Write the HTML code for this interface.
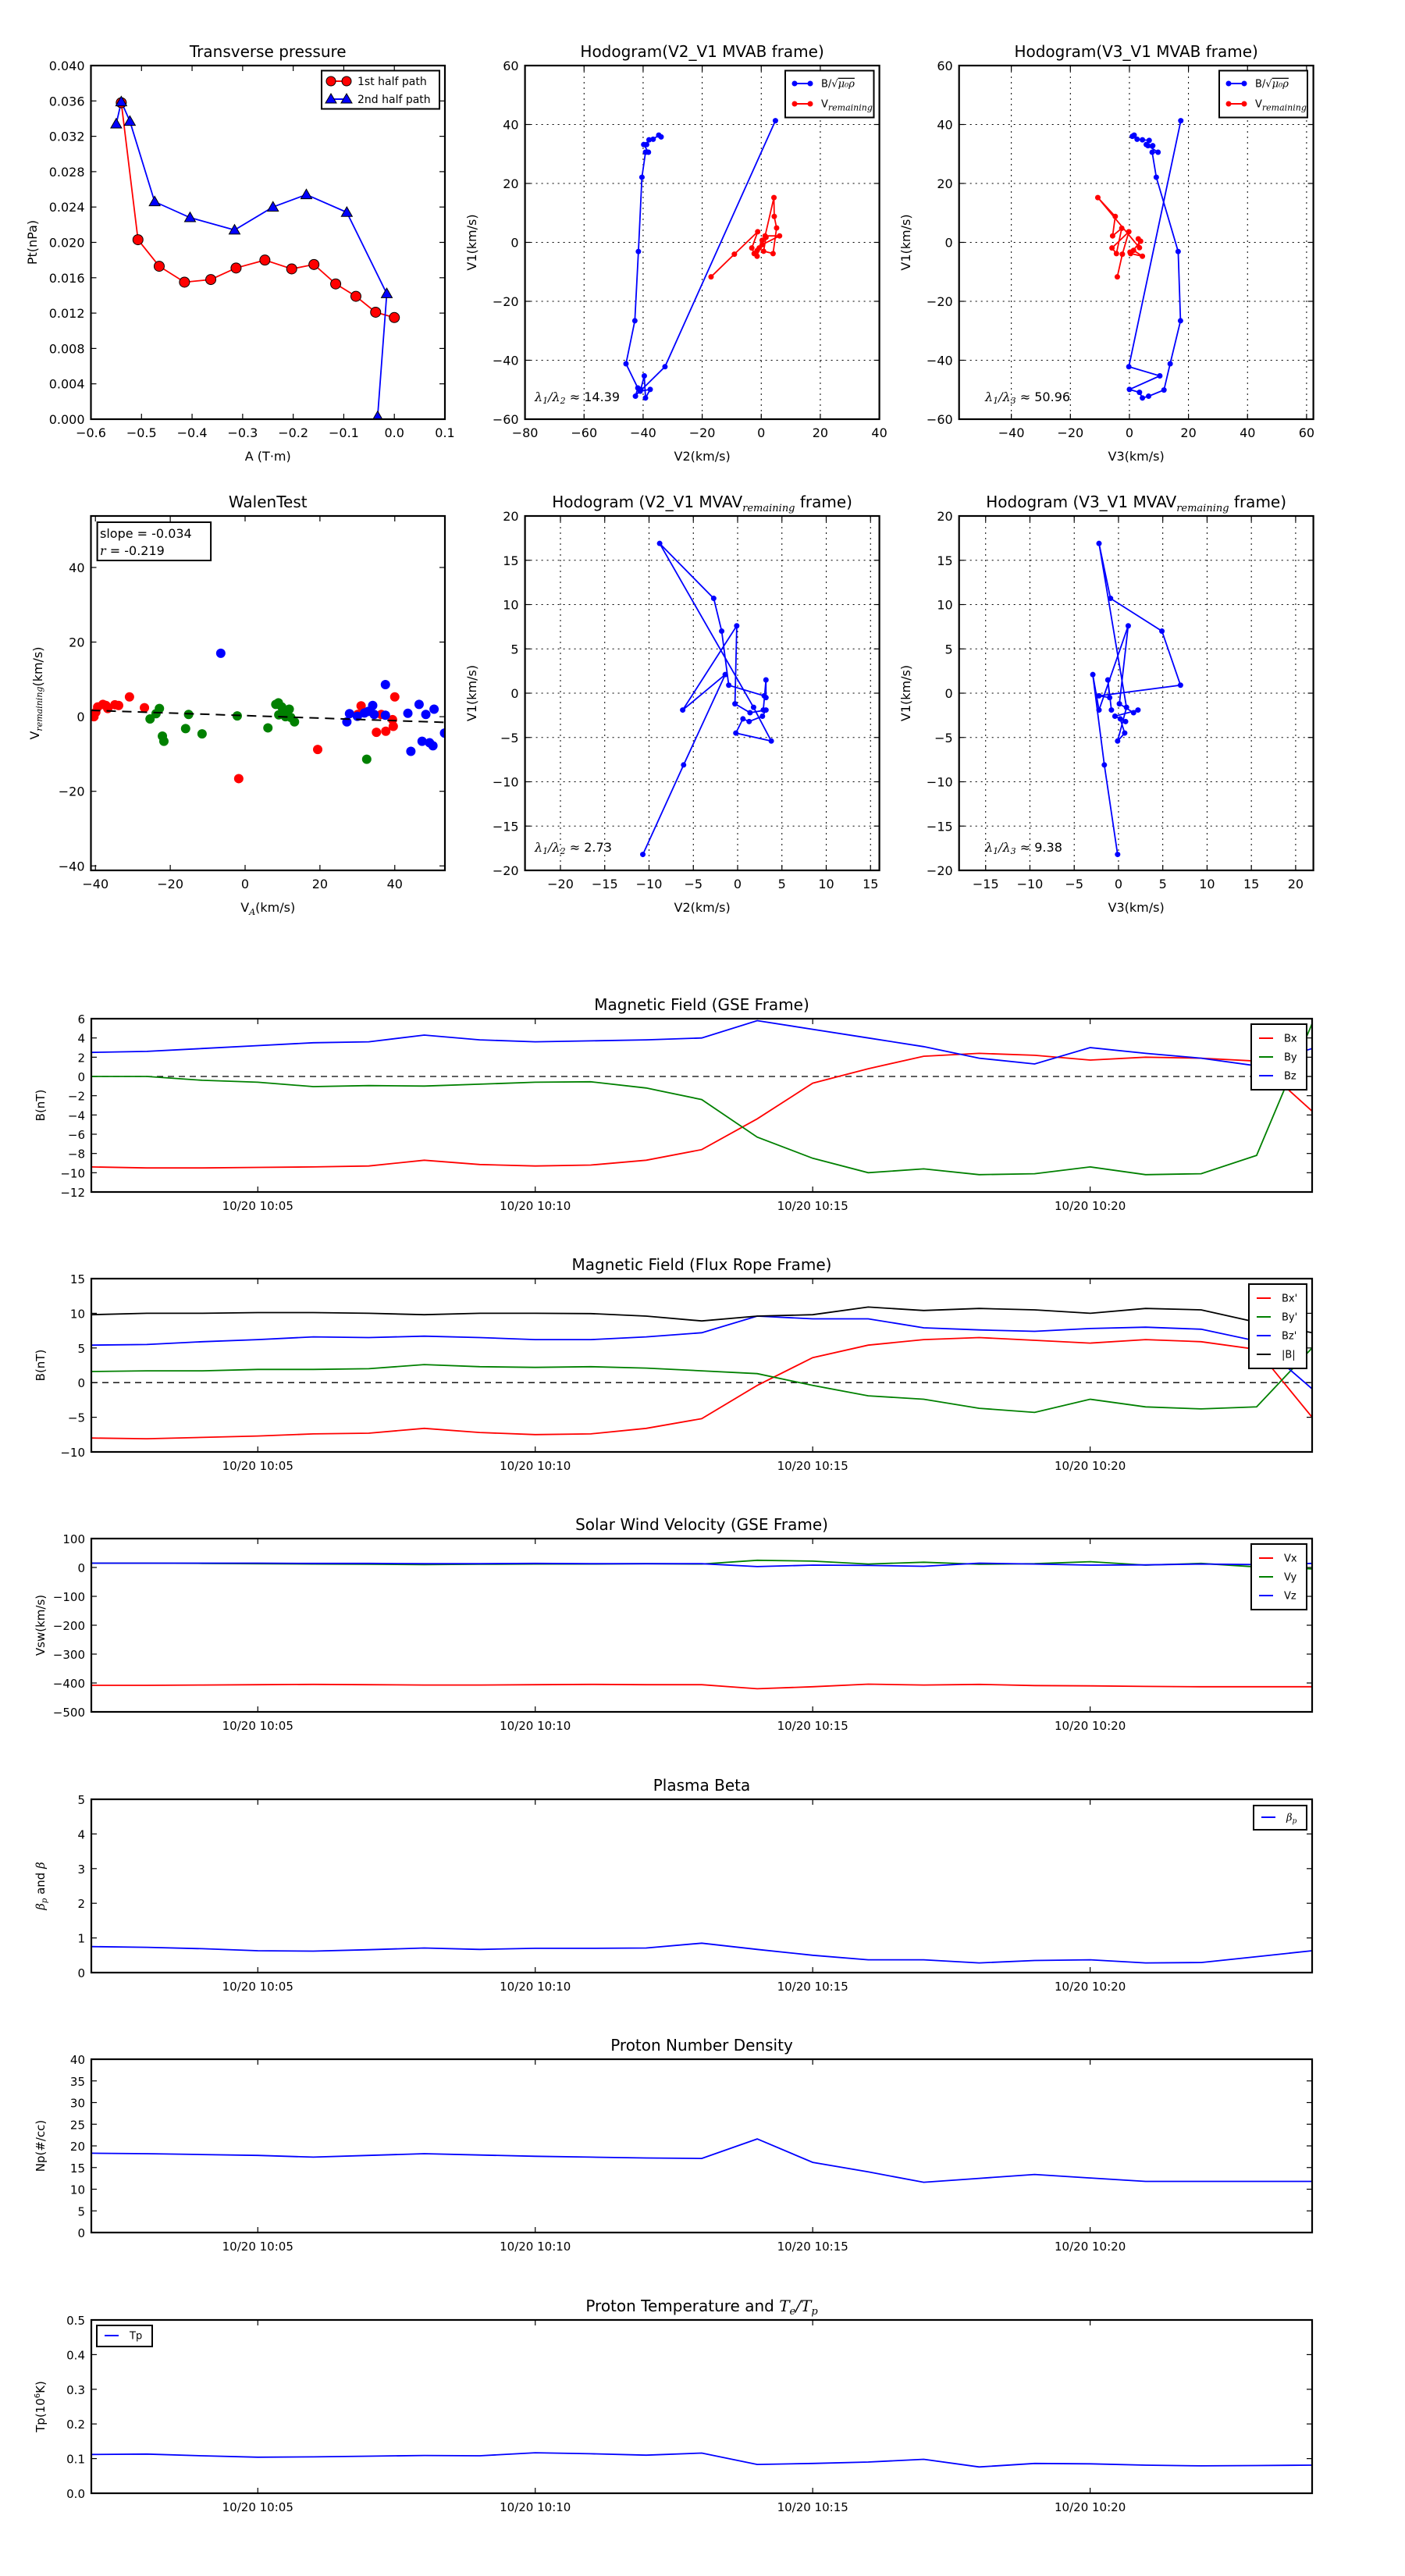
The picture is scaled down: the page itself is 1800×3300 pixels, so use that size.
<!DOCTYPE html>
<html><head><meta charset="utf-8"><title>Flux rope analysis</title>
<style>
html,body{margin:0;padding:0;background:#fff;}
svg{display:block;font-family:"DejaVu Sans","Liberation Sans",sans-serif;}
</style></head>
<body>
<svg id="fig" width="1800" height="3300" viewBox="0 0 1800 3300" xmlns="http://www.w3.org/2000/svg">
<rect x="0" y="0" width="1800" height="3300" fill="#fff"/>
</svg>
<script>
// ---------- DATA ----------
// Transverse pressure
const ptA1 = [-0.54,-0.507,-0.465,-0.415,-0.363,-0.313,-0.256,-0.203,-0.159,-0.116,-0.076,-0.037,0.0];
const ptP1 = [0.0358,0.0203,0.0173,0.0155,0.0158,0.0171,0.0180,0.0170,0.0175,0.0153,0.0139,0.0121,0.0115];
const ptA2 = [-0.55,-0.54,-0.523,-0.474,-0.404,-0.316,-0.24,-0.174,-0.094,-0.015,-0.033];
const ptP2 = [0.0334,0.0359,0.0337,0.0246,0.0228,0.0214,0.0240,0.0254,0.0234,0.0142,0.0003];
// Hodogram MVAB (B/sqrt(mu0 rho)) : V2, V3, V1
const hbV2 = [-33.9,-34.7,-36.6,-38.0,-38.8,-39.8,-38.2,-39.2,-40.4,-41.6,-42.8,-45.8,-41.8,-42.6,-40.8,-39.6,-39.2,-37.6,-41.0,-32.6,4.8];
const hbV3 = [1.6,1.0,2.6,4.4,6.7,5.7,7.9,6.3,9.7,7.7,9.1,16.5,17.3,13.8,11.7,6.5,4.4,3.4,0.0,10.3,-0.2,17.4];
const hbV1 = [35.8,36.4,35.0,34.8,33.2,33.2,30.6,30.6,22.1,-3.1,-26.6,-41.2,-49.4,-52.2,-49.9,-45.3,-52.8,-49.9,-50.5,-42.2,41.3];
const hbV1b = [36.4,36.0,35.0,34.8,34.6,33.2,32.8,32.8,30.6,30.6,22.1,-3.1,-26.6,-41.2,-50.1,-52.2,-52.8,-50.9,-49.9,-45.3,-42.2,41.3];
// V remaining in MVAB frame
const hvV2 = [-17.0,-9.1,-1.2,-3.2,-2.4,-1.4,-0.7,0.3,1.6,0.8,4.0,5.2,4.4,4.3,1.3,6.2,0.3,-1.4];
const hvV1 = [-11.7,-4.0,3.6,-1.9,-3.8,-4.7,-1.9,0.7,1.7,-3.0,-3.8,4.9,8.8,15.2,2.2,2.2,-0.8,-2.8];
const hvV3 = [-4.1,-2.4,-0.2,-5.9,-4.4,-2.6,-5.7,-4.8,-10.7,3.4,3.0,3.8,0.4,4.4,1.4,0.2];
const hvV1b = [-11.7,-4.0,3.6,-1.9,-3.8,4.8,2.2,8.8,15.2,-1.8,1.2,0.4,-3.8,-4.7,-2.7,-3.3];
// Hodogram MVAV remaining: V2, V3, V1
const mvV2 = [-10.7,-6.1,-1.4,-6.2,-0.1,-0.3,1.4,3.2,2.8,1.3,0.6,-0.2,3.8,1.8,-8.8,-2.7,-1.8,-1.0,3.0,3.2,3.2,2.9];
const mvV3 = [-0.1,-1.6,-2.9,-2.2,1.1,0.1,1.7,2.2,-0.4,0.8,0.2,0.7,-0.1,0.9,-2.2,-0.9,4.9,7.0,-2.2,-1.0,-1.2,-0.8];
const mvV1 = [-18.2,-8.1,2.1,-1.9,7.6,-1.2,-2.2,-1.9,-2.6,-3.2,-2.9,-4.5,-5.4,-1.6,16.9,10.7,7.0,0.9,-0.3,-0.5,1.5,-1.9];
// Walen test
const wRedX = [-40.4,-39.9,-39.4,-38.0,-37.2,-36.7,-34.8,-33.8,-30.9,-26.9,-1.7,19.4,31.0,30.1,35.1,37.6,36.4,39.4,39.6,40.0];
const wRedY = [0,1.2,2.6,3.3,3.0,2.2,3.2,3.0,5.3,2.4,-16.6,-8.8,2.9,0.6,-4.2,-3.9,0.6,-0.8,-2.6,5.3];
const wGrnX = [-25.4,-23.8,-22.9,-22.1,-21.7,-15.1,-15.9,-11.5,-2.1,6.1,8.2,8.9,9.8,10.6,11.8,9.0,10.8,12.2,13.2,32.5];
const wGrnY = [-0.6,0.8,2.2,-5.2,-6.6,0.6,-3.2,-4.6,0.2,-3.0,3.3,3.7,2.6,1.8,2.0,0.5,0,-0.2,-1.4,-11.4];
const wBluX = [-6.5,27.2,27.9,30.0,31.9,32.9,34.1,34.5,37.5,37.5,43.5,44.3,46.5,47.3,48.3,49.3,50.2,50.5,53.3];
const wBluY = [17.0,-1.4,0.8,0.1,1.0,1.4,3.0,0.6,8.6,0.4,0.9,-9.3,3.3,-6.6,0.6,-7.0,-7.8,2.0,-4.4];
const wSlope = [-0.034];
const wIntercept = [0.3];
// Time series (minutes after 10:00)
const tMin = [2,3,4,5,6,7,8,9,10,11,12,13,14,15,16,17,18,19,20,21,22,23,24];
const gseBx = [-9.4,-9.5,-9.5,-9.45,-9.4,-9.3,-8.7,-9.15,-9.3,-9.2,-8.7,-7.6,-4.4,-0.7,0.8,2.1,2.4,2.2,1.7,2.0,1.9,1.6,-3.6];
const gseBy = [0,0,-0.4,-0.6,-1.05,-0.95,-1.0,-0.8,-0.6,-0.55,-1.2,-2.4,-6.3,-8.5,-10.0,-9.6,-10.2,-10.1,-9.4,-10.2,-10.1,-8.2,5.5];
const gseBz = [2.5,2.6,2.9,3.2,3.5,3.6,4.3,3.8,3.6,3.7,3.8,4.0,5.8,4.9,4.0,3.1,1.9,1.3,3.0,2.4,1.9,1.1,2.9];
const frBx = [-8.0,-8.1,-7.9,-7.7,-7.4,-7.3,-6.6,-7.2,-7.5,-7.4,-6.6,-5.2,-0.4,3.6,5.4,6.2,6.5,6.1,5.7,6.2,5.9,4.8,-5.0];
const frBy = [1.6,1.7,1.7,1.9,1.9,2.0,2.6,2.3,2.2,2.3,2.1,1.7,1.3,-0.4,-1.9,-2.4,-3.7,-4.3,-2.4,-3.5,-3.8,-3.5,5.0];
const frBz = [5.4,5.5,5.9,6.2,6.6,6.5,6.7,6.5,6.2,6.2,6.6,7.2,9.6,9.2,9.2,7.9,7.6,7.4,7.8,8.0,7.7,6.0,-0.9];
const frBt = [9.8,10.0,10.0,10.1,10.1,10.0,9.8,10.0,10.0,9.95,9.6,8.9,9.6,9.8,10.9,10.4,10.7,10.5,10.0,10.7,10.5,8.7,7.2];
const vswX = [-408,-408,-407,-406,-405,-406,-407,-407,-406,-405,-406,-406,-420,-413,-404,-407,-405,-409,-410,-412,-413,-413,-413];
const vswY = [15,15,14,13,12,11,10,11,12,12,13,12,25,22,12,18,11,13,20,8,14,2,-5];
const vswZ = [15,15,15,15,14,14,13,13,14,13,13,13,3,8,7,4,15,12,8,9,12,10,14];
const betaP = [0.75,0.73,0.69,0.63,0.62,0.66,0.71,0.67,0.70,0.70,0.71,0.85,0.67,0.50,0.37,0.37,0.28,0.35,0.37,0.28,0.29,0.46,0.63];
const npDen = [18.3,18.2,18.0,17.8,17.4,17.8,18.2,17.9,17.6,17.4,17.2,17.1,21.6,16.2,14.0,11.6,12.5,13.4,12.6,11.8,11.8,11.8,11.8];
const tpTemp = [0.112,0.113,0.108,0.104,0.105,0.107,0.109,0.108,0.117,0.114,0.110,0.116,0.083,0.086,0.090,0.098,0.076,0.086,0.085,0.081,0.079,0.080,0.081];
const timeTicks = [5,10,15,20];
const timeTickLabels = ['10/20 10:05','10/20 10:10','10/20 10:15','10/20 10:20'];

// ---------- HELPERS ----------
const NS = 'http://www.w3.org/2000/svg';
const svg = document.getElementById('fig');
function mk(tag, parent) { const e = document.createElementNS(NS, tag); parent.appendChild(e); return e; }
function fmtNum(v, dec) { const s = Math.abs(v).toFixed(dec); return (v < -1e-9 ? '\u2212' : '') + s; }

function makeAxes(o) {
  const g = mk('g', svg);
  
  
  const sx = v => o.x0 + (v - o.xmin) / (o.xmax - o.xmin) * (o.x1 - o.x0);
  const sy = v => o.y1 - (v - o.ymin) / (o.ymax - o.ymin) * (o.y1 - o.y0);
  // grid
  if (o.grid) {
    o.xticks.forEach(t => {
      const l = mk('line', g);
      
      
      l.setAttribute('x1', sx(t)); l.setAttribute('x2', sx(t)); l.setAttribute('y1', o.y0); l.setAttribute('y2', o.y1);
      l.setAttribute('stroke', '#000'); l.setAttribute('stroke-width', '1'); l.setAttribute('stroke-dasharray', '2,5');
    });
    o.yticks.forEach(t => {
      const l = mk('line', g);
      
      
      l.setAttribute('x1', o.x0); l.setAttribute('x2', o.x1); l.setAttribute('y1', sy(t)); l.setAttribute('y2', sy(t));
      l.setAttribute('stroke', '#000'); l.setAttribute('stroke-width', '1'); l.setAttribute('stroke-dasharray', '2,5');
    });
  }
  // ticks + labels
  o.xticks.forEach((t, i) => {
    const x = sx(t);
    [[o.y1, -7], [o.y0, 7]].forEach(([yy, d]) => {
      const l = mk('line', g);
      
      
      l.setAttribute('x1', x); l.setAttribute('x2', x); l.setAttribute('y1', yy); l.setAttribute('y2', yy + d);
      l.setAttribute('stroke', '#000'); l.setAttribute('stroke-width', '1.2');
    });
    const tx = mk('text', g);
    
    
    tx.setAttribute('x', x); tx.setAttribute('y', o.y1 + 23);
    tx.setAttribute('text-anchor', 'middle'); tx.setAttribute('font-size', o.tfs || 16);
    tx.textContent = o.xlabels ? o.xlabels[i] : fmtNum(t, o.xdec || 0);
  });
  o.yticks.forEach(t => {
    const y = sy(t);
    [[o.x0, 7], [o.x1, -7]].forEach(([xx, d]) => {
      const l = mk('line', g);
      
      
      l.setAttribute('x1', xx); l.setAttribute('x2', xx + d); l.setAttribute('y1', y); l.setAttribute('y2', y);
      l.setAttribute('stroke', '#000'); l.setAttribute('stroke-width', '1.2');
    });
    const tx = mk('text', g);
    
    
    tx.setAttribute('x', o.x0 - 8); tx.setAttribute('y', y + 6);
    tx.setAttribute('text-anchor', 'end'); tx.setAttribute('font-size', o.tfs || 16);
    tx.textContent = fmtNum(t, o.ydec || 0);
  });
  // title
  const ti = mk('text', g);
  
  
  ti.setAttribute('x', (o.x0 + o.x1) / 2); ti.setAttribute('y', o.y0 - 11);
  ti.setAttribute('text-anchor', 'middle'); ti.setAttribute('font-size', 20);
  ti.innerHTML = o.title;
  // x label
  if (o.xlabel) {
    const xl = mk('text', g);
    
    
    xl.setAttribute('x', (o.x0 + o.x1) / 2); xl.setAttribute('y', o.y1 + 53);
    xl.setAttribute('text-anchor', 'middle'); xl.setAttribute('font-size', 16);
    xl.innerHTML = o.xlabel;
  }
  const yl = mk('text', g);
  
  
  const ylx = o.ylx, yly = (o.y0 + o.y1) / 2;
  yl.setAttribute('x', ylx); yl.setAttribute('y', yly);
  yl.setAttribute('transform', 'rotate(-90 ' + ylx + ' ' + yly + ')');
  yl.setAttribute('text-anchor', 'middle'); yl.setAttribute('font-size', o.ylfs || 16);
  yl.innerHTML = o.ylabel;
  // clip
  const cid = 'clip-' + o.name;
  const cp = mk('clipPath', g); cp.setAttribute('id', cid);
  const cr = mk('rect', cp);
  cr.setAttribute('x', o.x0); cr.setAttribute('y', o.y0); cr.setAttribute('width', o.x1 - o.x0); cr.setAttribute('height', o.y1 - o.y0);
  const plot = mk('g', g);
  
  
  plot.setAttribute('clip-path', 'url(#' + cid + ')');
  // frame (drawn later on top)
  const fr = mk('rect', g);
  
  
  fr.setAttribute('x', o.x0); fr.setAttribute('y', o.y0); fr.setAttribute('width', o.x1 - o.x0); fr.setAttribute('height', o.y1 - o.y0);
  fr.setAttribute('fill', 'none'); fr.setAttribute('stroke', '#000'); fr.setAttribute('stroke-width', '2.2');
  return { g, plot, sx, sy, o };
}

function polyline(ax, xs, ys, color, name, width) {
  const p = mk('polyline', ax.plot);
  
  
  const n = Math.min(xs.length, ys.length);
  const pts = [];
  for (let i = 0; i < n; i++) pts.push(ax.sx(xs[i]).toFixed(1) + ',' + ax.sy(ys[i]).toFixed(1));
  p.setAttribute('points', pts.join(' '));
  p.setAttribute('fill', 'none'); p.setAttribute('stroke', color); p.setAttribute('stroke-width', width || 1.8);
  return p;
}
function dots(ax, xs, ys, color, r, name, stroke) {
  const n = Math.min(xs.length, ys.length);
  for (let i = 0; i < n; i++) {
    const c = mk('circle', ax.plot);
    
    
    c.setAttribute('cx', ax.sx(xs[i])); c.setAttribute('cy', ax.sy(ys[i])); c.setAttribute('r', r);
    c.setAttribute('fill', color);
    if (stroke) { c.setAttribute('stroke', stroke); c.setAttribute('stroke-width', 1); }
  }
}
function tris(ax, xs, ys, color, s, name) {
  const n = Math.min(xs.length, ys.length);
  for (let i = 0; i < n; i++) {
    const x = ax.sx(xs[i]), y = ax.sy(ys[i]);
    const t = mk('polygon', ax.plot);
    
    
    t.setAttribute('points', x + ',' + (y - s) + ' ' + (x - s) + ',' + (y + s * 0.75) + ' ' + (x + s) + ',' + (y + s * 0.75));
    t.setAttribute('fill', color); t.setAttribute('stroke', '#000'); t.setAttribute('stroke-width', 1);
  }
}
function legendBox(parent, x, y, w, h, name) {
  const g = mk('g', parent);
  
  
  const r = mk('rect', g);
  r.setAttribute('x', x); r.setAttribute('y', y); r.setAttribute('width', w); r.setAttribute('height', h);
  r.setAttribute('fill', '#fff'); r.setAttribute('stroke', '#000'); r.setAttribute('stroke-width', 2);
  return g;
}
function legendEntry(g, x, y, color, label, fs, lw, marker) {
  const e = mk('g', g);
  
  
  const l = mk('line', e);
  l.setAttribute('x1', x); l.setAttribute('x2', x + lw); l.setAttribute('y1', y); l.setAttribute('y2', y);
  l.setAttribute('stroke', color); l.setAttribute('stroke-width', 2);
  if (marker === 'dot') {
    [x, x + lw].forEach(cx => { const c = mk('circle', e); c.setAttribute('cx', cx); c.setAttribute('cy', y); c.setAttribute('r', 3.5); c.setAttribute('fill', color); });
  } else if (marker === 'bigdot') {
    [x, x + lw].forEach(cx => { const c = mk('circle', e); c.setAttribute('cx', cx); c.setAttribute('cy', y); c.setAttribute('r', 6); c.setAttribute('fill', color); c.setAttribute('stroke', '#000'); });
  } else if (marker === 'tri') {
    [x, x + lw].forEach(cx => { const t = mk('polygon', e); t.setAttribute('points', cx + ',' + (y - 7) + ' ' + (cx - 7) + ',' + (y + 5) + ' ' + (cx + 7) + ',' + (y + 5)); t.setAttribute('fill', color); t.setAttribute('stroke', '#000'); });
  }
  const t = mk('text', e);
  t.setAttribute('x', x + lw + 14); t.setAttribute('y', y + fs * 0.36);
  t.setAttribute('font-size', fs);
  t.innerHTML = label;
}
function range(a, b, s) { const r = []; for (let v = a; v <= b + 1e-9; v += s) r.push(Math.round(v * 1e6) / 1e6); return r; }

const SUBREM = '<tspan font-family="DejaVu Serif, serif" font-style="italic" font-size="11" dy="4">remaining</tspan><tspan dy="-4"></tspan>';

// ---------- PANEL: Transverse pressure ----------
const axA = makeAxes({ name: 'transverse-pressure-chart', x0: 116.5, x1: 570, y0: 84, y1: 537, xmin: -0.6, xmax: 0.1, ymin: 0, ymax: 0.04,
  xticks: range(-0.6, 0.1, 0.1), yticks: range(0, 0.04, 0.004), xdec: 1, ydec: 3,
  title: 'Transverse pressure', xlabel: 'A (T\u00b7m)', ylabel: 'Pt(nPa)', ylx: 47 });
polyline(axA, ptA1, ptP1, '#ff0000', 'first-half-path-line');
polyline(axA, ptA2, ptP2, '#0000ff', 'second-half-path-line');
dots(axA, ptA1, ptP1, '#ff0000', 6.5, 'first-half-point', '#000');
tris(axA, ptA2, ptP2, '#0000ff', 7, 'second-half-point');
{ const lg = legendBox(axA.g, 412, 90.5, 151, 49, 'pressure-legend');
  legendEntry(lg, 424, 104, '#ff0000', '1st half path', 14, 20, 'bigdot');
  legendEntry(lg, 424, 127, '#0000ff', '2nd half path', 14, 20, 'tri'); }

// ---------- PANEL: Hodogram V2_V1 MVAB ----------
const axH1 = makeAxes({ name: 'hodogram-v2-v1-mvab-chart', x0: 672.6, x1: 1126.6, y0: 84, y1: 537, xmin: -80, xmax: 40, ymin: -60, ymax: 60,
  xticks: range(-80, 40, 20), yticks: range(-60, 60, 20), grid: true,
  title: 'Hodogram(V2_V1 MVAB frame)', xlabel: 'V2(km/s)', ylabel: 'V1(km/s)', ylx: 610 });
polyline(axH1, hbV2, hbV1, '#0000ff', 'b-alfven-path');
dots(axH1, hbV2, hbV1, '#0000ff', 3.5, 'b-alfven-point');
polyline(axH1, hvV2, hvV1, '#ff0000', 'v-remaining-path');
dots(axH1, hvV2, hvV1, '#ff0000', 3.5, 'v-remaining-point');
{ const lg = legendBox(axH1.g, 1006, 90.5, 113.5, 60, 'hodogram-legend');
  legendEntry(lg, 1018, 107, '#0000ff', 'B/\u221a<tspan font-family="DejaVu Serif, serif" font-style="italic" text-decoration="overline">\u03bc\u2080\u03c1</tspan>', 13, 20, 'dot');
  legendEntry(lg, 1018, 133, '#ff0000', 'V' + SUBREM, 13, 20, 'dot'); }
{ const t = mk('text', axH1.g);  
  t.setAttribute('x', 685); t.setAttribute('y', 514); t.setAttribute('font-size', 16);
  t.innerHTML = '<tspan font-family="DejaVu Serif, serif" font-style="italic">\u03bb<tspan font-size="11" dy="3">1</tspan><tspan dy="-3">/\u03bb</tspan><tspan font-size="11" dy="3">2</tspan></tspan><tspan dy="-3"> \u2248 14.39</tspan>'; }

// ---------- PANEL: Hodogram V3_V1 MVAB ----------
const axH2 = makeAxes({ name: 'hodogram-v3-v1-mvab-chart', x0: 1228.7, x1: 1682.6, y0: 84, y1: 537, xmin: -57.7, xmax: 62.3, ymin: -60, ymax: 60,
  xticks: range(-40, 60, 20), yticks: range(-60, 60, 20), grid: true,
  title: 'Hodogram(V3_V1 MVAB frame)', xlabel: 'V3(km/s)', ylabel: 'V1(km/s)', ylx: 1166 });
polyline(axH2, hbV3, hbV1b, '#0000ff', 'b-alfven-path');
dots(axH2, hbV3, hbV1b, '#0000ff', 3.5, 'b-alfven-point');
polyline(axH2, hvV3, hvV1b, '#ff0000', 'v-remaining-path');
dots(axH2, hvV3, hvV1b, '#ff0000', 3.5, 'v-remaining-point');
{ const lg = legendBox(axH2.g, 1562, 90.5, 113, 60, 'hodogram-legend');
  legendEntry(lg, 1574, 107, '#0000ff', 'B/\u221a<tspan font-family="DejaVu Serif, serif" font-style="italic" text-decoration="overline">\u03bc\u2080\u03c1</tspan>', 13, 20, 'dot');
  legendEntry(lg, 1574, 133, '#ff0000', 'V' + SUBREM, 13, 20, 'dot'); }
{ const t = mk('text', axH2.g);  
  t.setAttribute('x', 1262); t.setAttribute('y', 514); t.setAttribute('font-size', 16);
  t.innerHTML = '<tspan font-family="DejaVu Serif, serif" font-style="italic">\u03bb<tspan font-size="11" dy="3">1</tspan><tspan dy="-3">/\u03bb</tspan><tspan font-size="11" dy="3">3</tspan></tspan><tspan dy="-3"> \u2248 50.96</tspan>'; }

// ---------- PANEL: Walen test ----------
const axW = makeAxes({ name: 'walen-test-chart', x0: 116.5, x1: 570, y0: 661, y1: 1115, xmin: -41.2, xmax: 53.4, ymin: -41.2, ymax: 53.8,
  xticks: range(-40, 40, 20), yticks: range(-40, 40, 20),
  title: 'WalenTest', xlabel: 'V<tspan font-family="DejaVu Serif, serif" font-style="italic" font-size="11" dy="4">A</tspan><tspan dy="-4">(km/s)</tspan>',
  ylabel: 'V' + SUBREM + '(km/s)', ylx: 50 });
dots(axW, wRedX, wRedY, '#ff0000', 6, 'walen-point-red');
dots(axW, wGrnX, wGrnY, '#008000', 6, 'walen-point-green');
dots(axW, wBluX, wBluY, '#0000ff', 6, 'walen-point-blue');
{ const xs = [axW.o.xmin, axW.o.xmax];
  const ys = xs.map(x => wSlope[0] * x + wIntercept[0]);
  const l = polyline(axW, xs, ys, '#000', 'walen-fit-line', 2);
  l.setAttribute('stroke-dasharray', '12,8'); }
{ const g = legendBox(axW.g, 124.6, 669, 145.5, 49, 'walen-stats-box');
  const t1 = mk('text', g);  
  t1.setAttribute('x', 128); t1.setAttribute('y', 689); t1.setAttribute('font-size', 16); t1.textContent = 'slope = -0.034';
  const t2 = mk('text', g);  
  t2.setAttribute('x', 128); t2.setAttribute('y', 711); t2.setAttribute('font-size', 16);
  t2.innerHTML = '<tspan font-family="DejaVu Serif, serif" font-style="italic">r</tspan> = -0.219'; }

// ---------- PANEL: Hodogram V2_V1 MVAV ----------
const axH3 = makeAxes({ name: 'hodogram-v2-v1-mvav-chart', x0: 672.6, x1: 1126.6, y0: 661, y1: 1115, xmin: -24, xmax: 16, ymin: -20, ymax: 20,
  xticks: range(-20, 15, 5), yticks: range(-20, 20, 5), grid: true,
  title: 'Hodogram (V2_V1 MVAV<tspan font-family="DejaVu Serif, serif" font-style="italic" font-size="13" dy="5">remaining</tspan><tspan dy="-5"> frame)</tspan>',
  xlabel: 'V2(km/s)', ylabel: 'V1(km/s)', ylx: 610 });
polyline(axH3, mvV2, mvV1, '#0000ff', 'mvav-path');
dots(axH3, mvV2, mvV1, '#0000ff', 3.5, 'mvav-point');
{ const t = mk('text', axH3.g);  
  t.setAttribute('x', 685); t.setAttribute('y', 1091); t.setAttribute('font-size', 16);
  t.innerHTML = '<tspan font-family="DejaVu Serif, serif" font-style="italic">\u03bb<tspan font-size="11" dy="3">1</tspan><tspan dy="-3">/\u03bb</tspan><tspan font-size="11" dy="3">2</tspan></tspan><tspan dy="-3"> \u2248 2.73</tspan>'; }

// ---------- PANEL: Hodogram V3_V1 MVAV ----------
const axH4 = makeAxes({ name: 'hodogram-v3-v1-mvav-chart', x0: 1228.7, x1: 1682.6, y0: 661, y1: 1115, xmin: -18, xmax: 22, ymin: -20, ymax: 20,
  xticks: range(-15, 20, 5), yticks: range(-20, 20, 5), grid: true,
  title: 'Hodogram (V3_V1 MVAV<tspan font-family="DejaVu Serif, serif" font-style="italic" font-size="13" dy="5">remaining</tspan><tspan dy="-5"> frame)</tspan>',
  xlabel: 'V3(km/s)', ylabel: 'V1(km/s)', ylx: 1166 });
polyline(axH4, mvV3, mvV1, '#0000ff', 'mvav-path');
dots(axH4, mvV3, mvV1, '#0000ff', 3.5, 'mvav-point');
{ const t = mk('text', axH4.g);  
  t.setAttribute('x', 1262); t.setAttribute('y', 1091); t.setAttribute('font-size', 16);
  t.innerHTML = '<tspan font-family="DejaVu Serif, serif" font-style="italic">\u03bb<tspan font-size="11" dy="3">1</tspan><tspan dy="-3">/\u03bb</tspan><tspan font-size="11" dy="3">3</tspan></tspan><tspan dy="-3"> \u2248 9.38</tspan>'; }

// ---------- TIME SERIES ----------
function tsAxes(name, y0, ymin, ymax, step, dec, title, ylabel) {
  return makeAxes({ name, x0: 117, x1: 1681, y0, y1: y0 + 222, xmin: 2, xmax: 24, ymin, ymax,
    xticks: timeTicks, xlabels: timeTickLabels, yticks: range(ymin, ymax, step), ydec: dec,
    title, ylabel, ylx: 57, tfs: 15, ylfs: 15 });
}
function zeroLine(ax) {
  const l = polyline(ax, [ax.o.xmin, ax.o.xmax], [0, 0], '#000', 'zero-reference-line', 1.3);
  l.setAttribute('stroke-dasharray', '8,6');
}
function tsLegend(ax, x, y, w, entries, name) {
  const h = entries.length * 24 + 12;
  const lg = legendBox(ax.g, x, y, w, h, name);
  entries.forEach((e, i) => legendEntry(lg, x + 10, y + 18 + i * 24, e[0], e[1], 13, 18));
}

const axG = tsAxes('magnetic-field-gse-chart', 1305, -12, 6, 2, 0, 'Magnetic Field (GSE Frame)', 'B(nT)');
zeroLine(axG);
polyline(axG, tMin, gseBx, '#ff0000', 'bx-line');
polyline(axG, tMin, gseBy, '#008000', 'by-line');
polyline(axG, tMin, gseBz, '#0000ff', 'bz-line');
tsLegend(axG, 1603, 1312, 71, [['#ff0000', 'Bx'], ['#008000', 'By'], ['#0000ff', 'Bz']], 'gse-field-legend');

const axF = tsAxes('magnetic-field-flux-rope-chart', 1638, -10, 15, 5, 0, 'Magnetic Field (Flux Rope Frame)', 'B(nT)');
zeroLine(axF);
polyline(axF, tMin, frBx, '#ff0000', 'bx-prime-line');
polyline(axF, tMin, frBy, '#008000', 'by-prime-line');
polyline(axF, tMin, frBz, '#0000ff', 'bz-prime-line');
polyline(axF, tMin, frBt, '#000000', 'b-magnitude-line');
tsLegend(axF, 1600, 1645, 74, [['#ff0000', "Bx'"], ['#008000', "By'"], ['#0000ff', "Bz'"], ['#000', '|B|']], 'flux-rope-field-legend');

const axV = tsAxes('solar-wind-velocity-chart', 1971, -500, 100, 100, 0, 'Solar Wind Velocity (GSE Frame)', 'Vsw(km/s)');
polyline(axV, tMin, vswX, '#ff0000', 'vx-line');
polyline(axV, tMin, vswY, '#008000', 'vy-line');
polyline(axV, tMin, vswZ, '#0000ff', 'vz-line');
tsLegend(axV, 1603, 1978, 71, [['#ff0000', 'Vx'], ['#008000', 'Vy'], ['#0000ff', 'Vz']], 'velocity-legend');

const axB = tsAxes('plasma-beta-chart', 2305, 0, 5, 1, 0, 'Plasma Beta',
  '<tspan font-family="DejaVu Serif, serif" font-style="italic">\u03b2<tspan font-size="10" dy="3">p</tspan></tspan><tspan dy="-3"> and </tspan><tspan font-family="DejaVu Serif, serif" font-style="italic">\u03b2</tspan>');
polyline(axB, tMin, betaP, '#0000ff', 'beta-p-line');
{ const lg = legendBox(axB.g, 1606, 2313, 68, 31, 'beta-legend');
  legendEntry(lg, 1616, 2328, '#0000ff', '<tspan font-family="DejaVu Serif, serif" font-style="italic">\u03b2<tspan font-size="9" dy="3">p</tspan></tspan>', 13, 18); }

const axN = tsAxes('proton-density-chart', 2638, 0, 40, 5, 0, 'Proton Number Density', 'Np(#/cc)');
polyline(axN, tMin, npDen, '#0000ff', 'np-line');

const axT = tsAxes('proton-temperature-chart', 2972, 0, 0.5, 0.1, 1,
  'Proton Temperature and <tspan font-family="DejaVu Serif, serif" font-style="italic">T<tspan font-size="13" dy="4">e</tspan><tspan dy="-4">/T</tspan><tspan font-size="13" dy="4">p</tspan></tspan>',
  'Tp(10<tspan font-size="10" dy="-6">6</tspan><tspan dy="6">K)</tspan>');
polyline(axT, tMin, tpTemp, '#0000ff', 'tp-line');
{ const lg = legendBox(axT.g, 124, 2979, 71, 27, 'temperature-legend');
  legendEntry(lg, 134, 2992, '#0000ff', 'Tp', 13, 18); }
</script>
</body></html>
